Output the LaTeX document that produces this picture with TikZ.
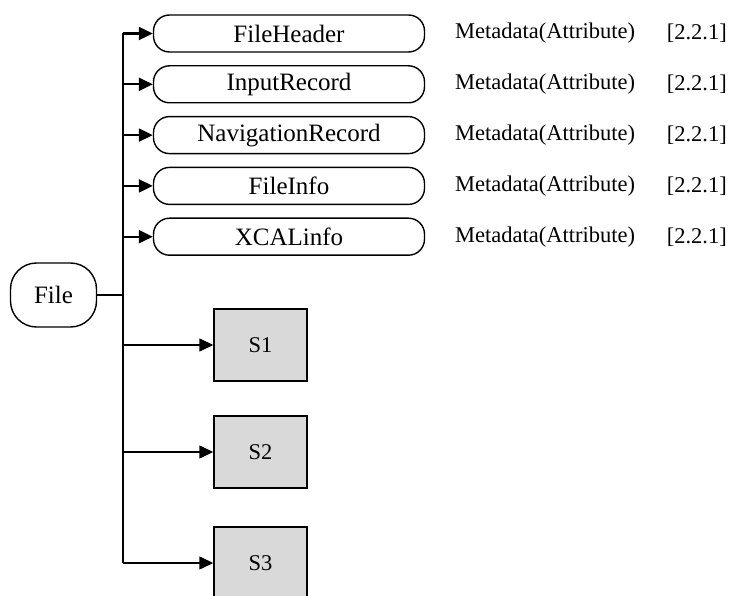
\documentclass[tikz,border=0pt]{standalone}
\usepackage{fontspec}
\setmainfont{Liberation Serif}
\usetikzlibrary{arrows.meta}
\begin{document}
\begin{tikzpicture}[x=1pt,y=-1pt,
  pill/.style={draw,line width=1.4pt,rounded corners=16pt,minimum width=271pt,minimum height=37pt,inner sep=0pt,font=\fontsize{25}{29}\selectfont},
  filebox/.style={draw,line width=1.4pt,rounded corners=26pt,minimum width=86pt,minimum height=64pt,inner sep=0pt,font=\fontsize{25}{29}\selectfont},
  sbox/.style={draw,line width=1.4pt,fill={rgb,255:red,217;green,217;blue,217},minimum width=93pt,minimum height=72pt,inner sep=0pt,font=\fontsize{22.5}{26}\selectfont},
  meta/.style={font=\fontsize{22.5}{26}\selectfont,inner sep=0pt},
  tip/.style={-{Triangle[length=14pt,width=13pt]}},
  thickln/.style={line width=2.2pt},
  thinln/.style={line width=1.4pt}]
\useasboundingbox (0,0) rectangle (731,596);
\node[filebox] (file) at (53.5,295) {File};
\coordinate (j) at (123,295);
\foreach \n/\t/\y in {h/FileHeader/33.5,i/InputRecord/84.3,n/NavigationRecord/135.1,f/FileInfo/185.9,x/XCALinfo/236.7}{
  \node[pill] (\n) at (289,\y) {\t};
  \coordinate (c\n) at (123,\y);
  \draw[thickln,tip] (c\n) -- (\n.west);
  \node[meta,anchor=west] (m\n) at (455,\y) {Metadata(Attribute)};
  \node[meta,anchor=east] (r\n) at (727,\y) {[2.2.1]};
}
\foreach \n/\y in {1/345,2/452,3/563}{
  \node[sbox] (s\n) at (260.5,\y) {S\n};
  \coordinate (d\n) at (123,\y);
  \draw[thinln,tip] (d\n) -- (s\n.west);
}
\draw[thickln] (file.east) -- (j);
\draw[thickln] (ch) -- (j);
\draw[thinln] (j) -- (d3);
\end{tikzpicture}
\end{document}
